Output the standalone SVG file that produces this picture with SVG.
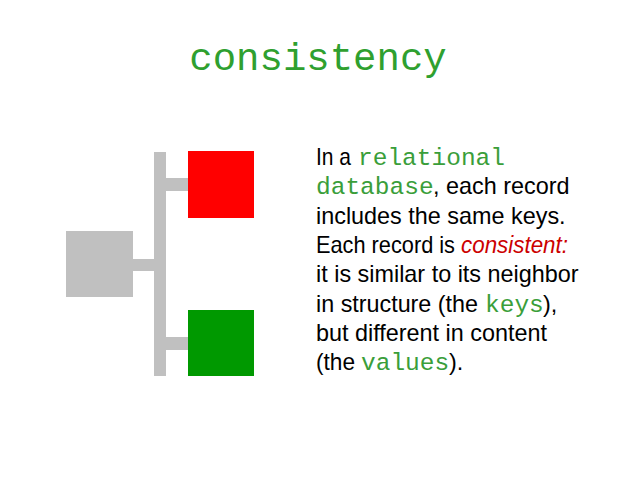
<svg xmlns="http://www.w3.org/2000/svg" width="638" height="479" viewBox="0 0 638 479">
<style>
.bar{fill:#c0c0c0}
.body{font-family:"Liberation Sans",Arial,sans-serif;font-size:23.4px;fill:#000}
.mono{font-family:"Liberation Mono","Courier New",monospace;font-size:24.5px;fill:#3a9e3a}
.em{font-style:italic;fill:#cc0000}
.title{font-family:"Liberation Mono","Courier New",monospace;font-size:39px;fill:#2fa02f}
</style>
<rect width="638" height="479" fill="#fff"/>
<g id="connectors">
<rect class="bar" x="154" y="152" width="12" height="224"/>
<rect class="bar" x="166" y="178" width="22" height="13"/>
<rect class="bar" x="132" y="259" width="22" height="12"/>
<rect class="bar" x="166" y="337" width="22" height="13"/>
</g>
<g id="parent"><rect x="66" y="231" width="67" height="66" fill="#c0c0c0"/></g>
<g id="red-record"><rect x="188" y="151" width="66" height="67" fill="#ff0000"/></g>
<g id="green-record"><rect x="188" y="310" width="66" height="66" fill="#009900"/></g>
<g id="title"><text class="title" x="318" y="70" text-anchor="middle">consistency</text></g>
<g id="description">
<text class="body" y="165"><tspan x="316" textLength="35" lengthAdjust="spacingAndGlyphs">In a</tspan><tspan class="mono" x="358">relational</tspan></text>
<text class="body" x="316" y="194"><tspan class="mono">database</tspan><tspan x="433">, each record</tspan></text>
<text class="body" x="316" y="224">includes the same keys.</text>
<text class="body" y="253"><tspan x="316" textLength="139" lengthAdjust="spacingAndGlyphs">Each record is</tspan><tspan class="em" x="461" textLength="107" lengthAdjust="spacingAndGlyphs">consistent:</tspan></text>
<text class="body" x="316" y="282">it is similar to its neighbor</text>
<text class="body" y="312"><tspan x="316" textLength="162" lengthAdjust="spacingAndGlyphs">in structure (the</tspan><tspan class="mono" x="485">keys</tspan><tspan x="543">),</tspan></text>
<text class="body" x="316" y="341">but different in content</text>
<text class="body" y="370"><tspan x="316" textLength="39" lengthAdjust="spacingAndGlyphs">(the</tspan><tspan class="mono" x="361">values</tspan><tspan x="449">).</tspan></text>
</g>
</svg>
